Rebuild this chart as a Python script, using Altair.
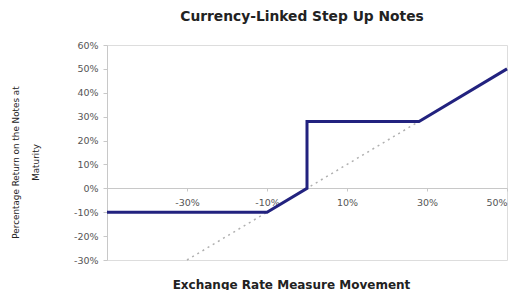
import altair as alt
import pandas as pd

# Note payoff (Exchange rate movement -> return), fractions
payoff_x = [-0.50, -0.10, 0.00, 0.00, 0.28, 0.50]
payoff_y = [-0.10, -0.10, 0.00, 0.28, 0.28, 0.50]
# Reference diagonal (direct exposure)
diag_x = [-0.30, 0.50]
diag_y = [-0.30, 0.50]

x_ticks = [-0.3, -0.1, 0.1, 0.3, 0.5]
y_ticks = [-0.3, -0.2, -0.1, 0.0, 0.1, 0.2, 0.3, 0.4, 0.5, 0.6]

payoff = pd.DataFrame({"x": payoff_x, "y": payoff_y, "o": range(len(payoff_x))})
diag = pd.DataFrame({"x": diag_x, "y": diag_y, "o": range(len(diag_x))})

xs = alt.Scale(domain=[-0.5, 0.5], nice=False, zero=False)
ys = alt.Scale(domain=[-0.3, 0.6], nice=False, zero=False)

F = "DejaVu Sans"
PCT = "round(datum.value * 100) + '%'"

x_axis = alt.Axis(
    values=x_ticks, labelExpr=PCT, grid=False, offset=-72,
    domainColor="#c8c8c8", tickColor="#c8c8c8", tickSize=3,
    labelColor="#555555", labelFontSize=9.5, labelFont=F, labelPadding=6,
    title="Exchange Rate Measure Movement", titleFont=F, titleFontSize=12,
    titleFontWeight="bold", titleColor="#222222", titleX=184, titleY=96,
    titleBaseline="middle", titleAnchor="middle",
)
y_axis = alt.Axis(
    values=y_ticks, labelExpr=PCT, grid=False,
    domainColor="#c8c8c8", tickColor="#c8c8c8", tickSize=4,
    labelColor="#555555", labelFontSize=9.5, labelFont=F, labelPadding=5,
    title=["Percentage Return on the Notes at", "Maturity"], titleFont=F,
    titleFontSize=8.8, titleFontWeight="normal", titleColor="#222222",
    titleLineHeight=20, titleX=-92, titleY=117, titleAngle=-90,
    titleBaseline="middle", titleAnchor="middle",
)

base_x = alt.X("x:Q", scale=xs, axis=x_axis)
base_y = alt.Y("y:Q", scale=ys, axis=y_axis)

diag_line = alt.Chart(diag).mark_line(
    color="#b0b0b0", strokeWidth=1.5, strokeDash=[2, 4]
).encode(x=base_x, y=base_y, order="o:Q")

payoff_line = alt.Chart(payoff).mark_line(
    color="#22227f", strokeWidth=3, strokeJoin="miter"
).encode(x=base_x, y=base_y, order="o:Q")

chart = (
    alt.layer(diag_line, payoff_line)
    .properties(
        width=400, height=215,
        title=alt.TitleParams(
            "Currency-Linked Step Up Notes", font=F, fontSize=13.8,
            fontWeight="bold", color="#222222", anchor="middle", offset=16, dx=-5,
        ),
        autosize=alt.AutoSizeParams(type="none"),
        padding={"left": 99, "top": 37, "right": 7, "bottom": 30},
    )
    .configure_view(stroke=None)
    .configure(background="white")
)

chart.save("out.html", embed_options={"renderer": "svg", "actions": False})
